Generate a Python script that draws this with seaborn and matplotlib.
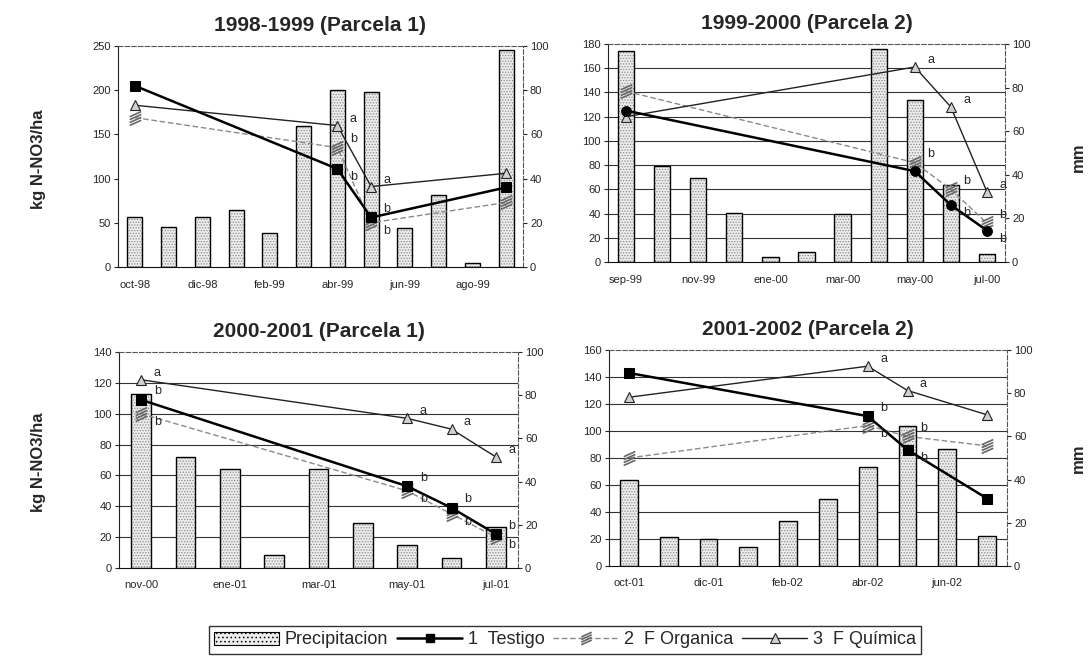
import numpy as np
import pandas as pd
import matplotlib
matplotlib.use('Agg')
import matplotlib.pyplot as plt
import seaborn as sns
from matplotlib.path import Path
from matplotlib.patches import Patch
from matplotlib.lines import Line2D
from matplotlib.ticker import FixedLocator

sns.set_style('white')
plt.rcParams['font.family'] = ['Liberation Sans', 'DejaVu Sans']
plt.rcParams['hatch.linewidth'] = 0.6

# ---------------- data ----------------
p1_title = '1998-1999 (Parcela 1)'
p1_months = ['oct-98', 'nov-98', 'dic-98', 'ene-99', 'feb-99', 'mar-99',
             'abr-99', 'may-99', 'jun-99', 'jul-99', 'ago-99', 'sep-99']
p1_precip = [22.5, 18, 22.5, 26, 15.5, 64, 80, 79, 17.5, 32.5, 2, 98]
p1_samples = ['oct-98', 'abr-99', 'may-99', 'sep-99']
p1_testigo = [205, 111, 56, 90]
p1_organica = [169, 135, 50, 73]
p1_quimica = [183, 160, 91, 106]
p1_let_testigo = ['', 'b', 'b', '']
p1_let_organica = ['', 'b', 'b', '']
p1_let_quimica = ['', 'a', 'a', '']

p2_title = '1999-2000 (Parcela 2)'
p2_months = ['sep-99', 'oct-99', 'nov-99', 'dic-99', 'ene-00', 'feb-00',
             'mar-00', 'abr-00', 'may-00', 'jun-00', 'jul-00']
p2_precip = [97, 44, 38.5, 22.5, 2.5, 4.5, 22, 97.5, 74.5, 35.5, 3.5]
p2_samples = ['sep-99', 'may-00', 'jun-00', 'jul-00']
p2_testigo = [125, 75, 47, 26]
p2_organica = [141, 82, 60, 32]
p2_quimica = [120, 161, 128, 58]
p2_let_testigo = ['', '', 'b', 'b']
p2_let_organica = ['', 'b', 'b', 'b']
p2_let_quimica = ['', 'a', 'a', 'a']

p3_title = '2000-2001 (Parcela 1)'
p3_months = ['nov-00', 'dic-00', 'ene-01', 'feb-01', 'mar-01', 'abr-01',
             'may-01', 'jun-01', 'jul-01']
p3_precip = [80.5, 51.5, 45.8, 6, 45.8, 20.7, 10.8, 4.8, 19]
p3_samples = ['nov-00', 'may-01', 'jun-01', 'jul-01']
p3_testigo = [109, 53, 39, 22]
p3_organica = [100, 50, 35, 20]
p3_quimica = [122, 97, 90, 72]
p3_let_testigo = ['b', 'b', 'b', 'b']
p3_let_organica = ['b', 'b', 'b', 'b']
p3_let_quimica = ['a', 'a', 'a', 'a']

p4_title = '2001-2002 (Parcela 2)'
p4_months = ['oct-01', 'nov-01', 'dic-01', 'ene-02', 'feb-02', 'mar-02',
             'abr-02', 'may-02', 'jun-02', 'jul-02']
p4_precip = [40, 13.5, 12.5, 9, 21, 31, 46, 65, 54, 14]
p4_samples = ['oct-01', 'abr-02', 'may-02', 'jul-02']
p4_testigo = [143, 111, 86, 50]
p4_organica = [80, 104, 96, 89]
p4_quimica = [125, 148, 130, 112]
p4_let_testigo = ['', 'b', 'b', '']
p4_let_organica = ['', 'b', 'b', '']
p4_let_quimica = ['', 'a', 'a', '']

legend_labels = ['Precipitacion', '1  Testigo', '2  F Organica', '3  F Química']
ylabel_left = 'kg N-NO3/ha'
ylabel_right = 'mm'

# hatched marker for F Organica
_v, _c = [], []
for o in (-0.75, -0.25, 0.25, 0.75):
    _v += [(-1.0, o - 0.45), (1.0, o + 0.45)]
    _c += [Path.MOVETO, Path.LINETO]
hatch_marker = Path(_v, _c)

W, H = 1091, 658
fig = plt.figure(figsize=(W / 100, H / 100), dpi=100)


def draw(rect, title, months, precip, samples, testigo, organica, quimica,
         lt, lo, lq, lmax, lstep, tmarker):
    ax = fig.add_axes(rect)
    ax2 = ax.twinx()
    n = len(months)
    x = np.arange(n)
    dfb = pd.DataFrame({'x': x, 'mm': precip})
    sns.barplot(data=dfb, x='x', y='mm', native_scale=True, width=0.45,
                color='#ececec', edgecolor='#8c8c8c', hatch='......',
                linewidth=0, errorbar=None, ax=ax2)
    sns.barplot(data=dfb, x='x', y='mm', native_scale=True, width=0.45,
                fill=False, color='black', linewidth=1.0, errorbar=None, ax=ax2)
    ax2.set_ylim(0, 100)
    ax2.set_yticks(range(0, 101, 20))
    ax2.yaxis.set_minor_locator(
        FixedLocator(np.arange(lstep, lmax + 0.1, lstep) * 100.0 / lmax))
    ax2.grid(which='minor', axis='y', color='#333333', lw=0.8)
    ax2.grid(which='major', axis='y', visible=False)
    ax2.set_axisbelow(True)
    ax2.tick_params(axis='y', which='minor', length=0)
    ax2.tick_params(axis='y', which='major', length=3, labelsize=8, pad=2)
    ax2.set_xlabel('')
    ax2.set_ylabel('')

    sx = [months.index(s) for s in samples]
    df = pd.DataFrame({'x': sx, 'Testigo': testigo, 'Organica': organica,
                       'Quimica': quimica})
    sns.lineplot(data=df, x='x', y='Organica', ax=ax, color='#8a8a8a', lw=1.0,
                 linestyle=(0, (4, 2)), marker=hatch_marker, markersize=10,
                 mec='#666666', mew=1.2, legend=False)
    sns.lineplot(data=df, x='x', y='Quimica', ax=ax, color='#222222', lw=1.0,
                 marker='^', markersize=7, mfc='#d0d0d0', mec='#222222',
                 mew=0.8, legend=False)
    sns.lineplot(data=df, x='x', y='Testigo', ax=ax, color='black', lw=1.8,
                 marker=tmarker, markersize=7, mfc='black', mec='black',
                 legend=False)
    # significance letters: the upper of Testigo / Organica is labelled above,
    # the lower one below, Quimica slightly above
    for i, xi in enumerate(sx):
        t_up = testigo[i] >= organica[i]
        items = [(quimica[i], lq[i], 5),
                 (testigo[i], lt[i], 6 if t_up else -6),
                 (organica[i], lo[i], -6 if t_up else 6)]
        for yi, l, dy in items:
            if l:
                ax.annotate(l, (xi, yi), xytext=(9, dy),
                            textcoords='offset points', fontsize=9,
                            va='center', ha='left')

    ax.set_zorder(ax2.get_zorder() + 1)
    ax.patch.set_visible(False)
    ax.set_xlim(-0.5, n - 0.5)
    ax.set_ylim(0, lmax)
    ax.set_yticks(np.arange(0, lmax + 0.1, lstep))
    ax.set_xticks(x[::2])
    ax.set_xticklabels(months[::2])
    ax.xaxis.set_minor_locator(FixedLocator(np.arange(-0.5, n, 2)))
    ax.tick_params(axis='x', which='major', length=0, labelsize=8, pad=9)
    ax.tick_params(axis='x', which='minor', length=4, direction='out')
    ax.tick_params(axis='y', which='major', length=3, labelsize=8, pad=2)
    ax.set_xlabel('')
    ax.set_ylabel('')
    ax.set_title(title, fontsize=15, fontweight='bold', pad=11)

    for s in ('top', 'right'):
        ax.spines[s].set_visible(False)
    for s in ('left', 'top', 'bottom'):
        ax2.spines[s].set_visible(False)
    ax.spines['left'].set_color('#222222')
    ax.spines['bottom'].set_color('#111111')
    ax2.spines['right'].set_linestyle((0, (4, 2)))
    ax2.spines['right'].set_color('#555555')
    ax.spines['top'].set_visible(True)
    ax.spines['top'].set_linestyle((0, (4, 2)))
    ax.spines['top'].set_color('#555555')
    return ax


def rect(l, t, r, b):
    return [l / W, 1 - b / H, (r - l) / W, (b - t) / H]


draw(rect(118, 46, 523, 267), p1_title, p1_months, p1_precip, p1_samples,
     p1_testigo, p1_organica, p1_quimica, p1_let_testigo, p1_let_organica,
     p1_let_quimica, 250, 50, 's')
draw(rect(608, 44, 1005, 262), p2_title, p2_months, p2_precip, p2_samples,
     p2_testigo, p2_organica, p2_quimica, p2_let_testigo, p2_let_organica,
     p2_let_quimica, 180, 20, 'o')
draw(rect(119, 352, 518, 568), p3_title, p3_months, p3_precip, p3_samples,
     p3_testigo, p3_organica, p3_quimica, p3_let_testigo, p3_let_organica,
     p3_let_quimica, 140, 20, 's')
draw(rect(609, 350, 1007, 566), p4_title, p4_months, p4_precip, p4_samples,
     p4_testigo, p4_organica, p4_quimica, p4_let_testigo, p4_let_organica,
     p4_let_quimica, 160, 20, 's')

fig.text(38 / W, 1 - 159 / H, ylabel_left, rotation=90, ha='center',
         va='center', fontsize=12, fontweight='bold')
fig.text(38 / W, 1 - 462 / H, ylabel_left, rotation=90, ha='center',
         va='center', fontsize=12, fontweight='bold')
fig.text(1078 / W, 1 - 157 / H, ylabel_right, rotation=90, ha='center',
         va='center', fontsize=12, fontweight='bold')
fig.text(1078 / W, 1 - 458 / H, ylabel_right, rotation=90, ha='center',
         va='center', fontsize=12, fontweight='bold')

handles = [
    Patch(facecolor='#ececec', edgecolor='black', hatch='....', lw=0.8),
    Line2D([], [], color='black', lw=1.8, marker='s', markersize=6),
    Line2D([], [], color='#8a8a8a', lw=1.0, linestyle=(0, (4, 2)),
           marker=hatch_marker, markersize=9, mec='#666666', mew=1.2),
    Line2D([], [], color='#222222', lw=1.0, marker='^', markersize=7,
           mfc='#d0d0d0', mec='#222222', mew=0.8),
]
leg = fig.legend(handles, legend_labels, loc='center',
                 bbox_to_anchor=(565 / W, 1 - 640 / H), ncol=4, frameon=True,
                 fancybox=False, edgecolor='black', fontsize=13,
                 handlelength=3.6, columnspacing=0.5, handletextpad=0.3,
                 borderpad=0.3, borderaxespad=0)
leg.get_frame().set_linewidth(1.0)

fig.savefig('out.png', dpi=100)
